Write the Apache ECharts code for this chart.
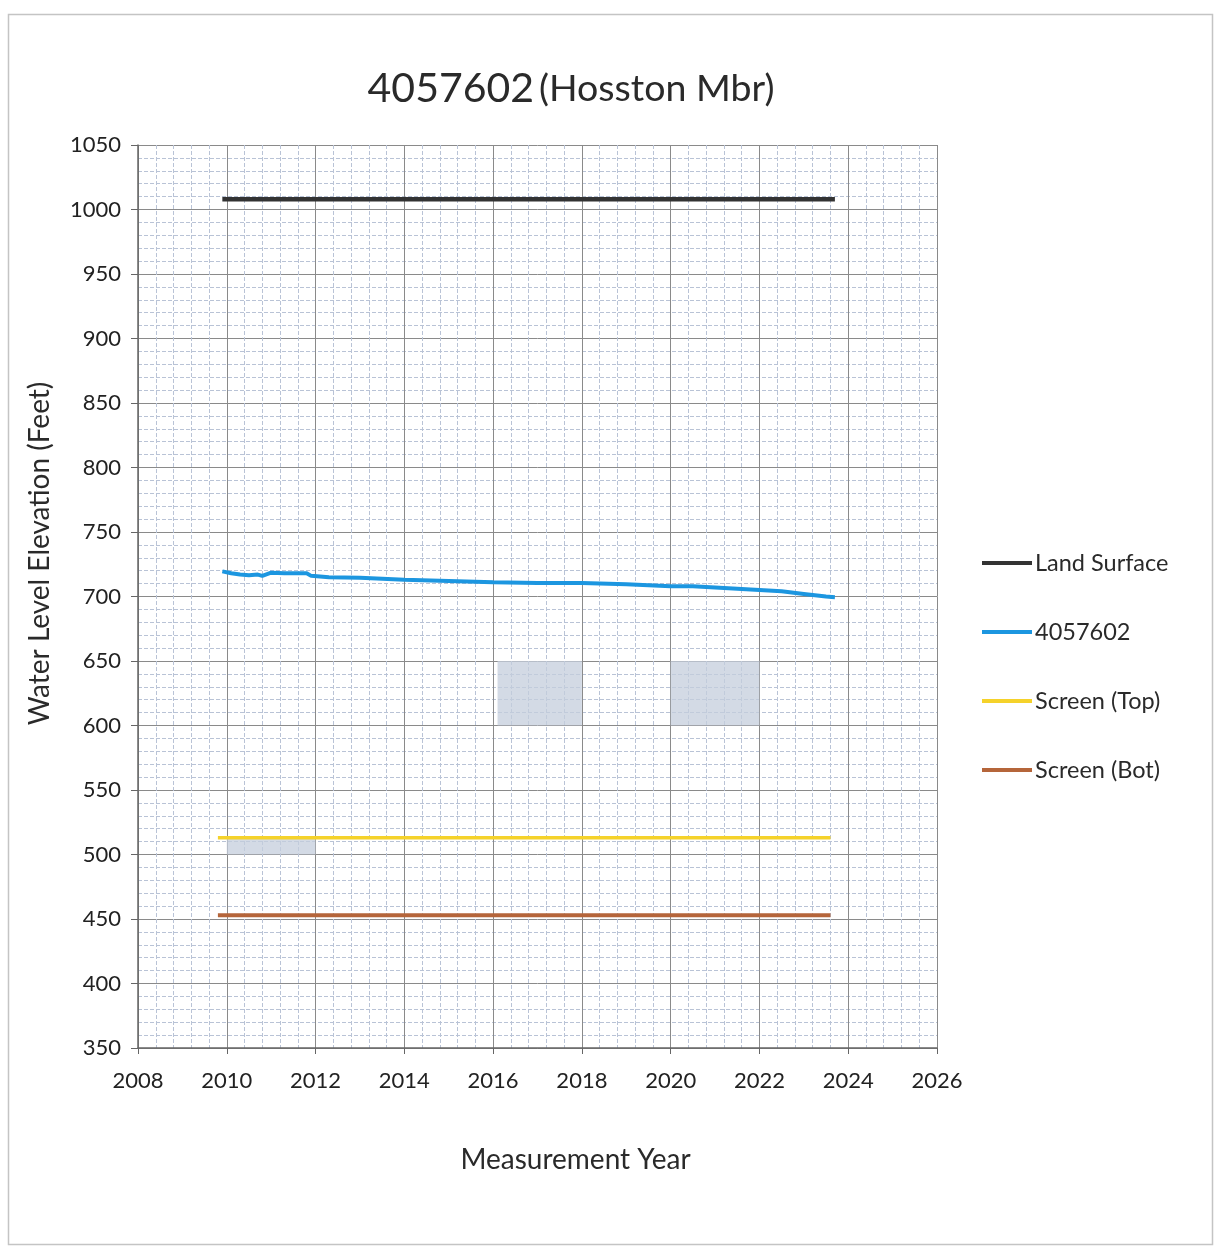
<!DOCTYPE html>
<html>
<head>
<meta charset="utf-8">
<script src="https://cdn.jsdelivr.net/npm/echarts@6/dist/echarts.min.js"></script>
<style>html,body{margin:0;padding:0;background:#fff}#c{width:1214px;height:1247px}</style>
</head>
<body>
<div id="c"></div>
<script>
// ---- data ----
const landYears = [2009.9, 2023.7];
const landValues = [1008, 1008];

const wellYears = [2009.9, 2010.1, 2010.3, 2010.5, 2010.7, 2010.8, 2011.0, 2011.3, 2011.6, 2011.8, 2011.9, 2012.3, 2013.0, 2014.0, 2015.0, 2016.0, 2017.0, 2018.0, 2019.0, 2020.0, 2020.5, 2021.0, 2022.0, 2022.5, 2023.0, 2023.5, 2023.7];
const wellValues = [719.5, 718, 717, 716.5, 717, 716, 718.5, 718, 718, 718, 716, 715, 714.5, 713, 712, 711, 710.5, 710.5, 709.5, 708, 708, 707, 705, 704, 702, 700, 699.5];

const screenTopYears = [2009.8, 2023.6];
const screenTopValues = [513, 513];
const screenBotYears = [2009.8, 2023.6];
const screenBotValues = [453, 453];

const shadeX = [[2016.1, 2018.0], [2020.0, 2022.0], [2010.0, 2012.0]];
const shadeY = [[600, 650], [600, 650], [500, 513]];

const seriesNames = ['Land Surface', '4057602', 'Screen (Top)', 'Screen (Bot)'];
const titleMain = '4057602';
const titleSub = '(Hosston Mbr)';

// ---- chart ----
const FONT = 'Lato, "Open Sans", sans-serif';
const pair = (xs, ys) => xs.map((x, i) => [x, ys[i]]);
const chart = echarts.init(document.getElementById('c'), null, {renderer: 'canvas'});

const areas = shadeX.map((xr, i) => [
  {xAxis: xr[0], yAxis: shadeY[i][0]},
  {xAxis: xr[1], yAxis: shadeY[i][1]}
]);

chart.setOption({
  backgroundColor: '#ffffff',
  animation: false,
  graphic: [{
    type: 'rect', left: 6, top: 12, shape: {width: 1204, height: 1230},
    style: {fill: 'none', stroke: '#c4c4c4', lineWidth: 1.5}, z: -1
  }],
  title: {
    text: '{a|' + titleMain + '} {b|' + titleSub + '}',
    left: 566, top: 63, textAlign: 'center',
    textStyle: {
      fontWeight: 'normal',
      rich: {
        a: {fontFamily: FONT, fontSize: 41, fontWeight: 'normal', color: '#2a2a2a'},
        b: {fontFamily: FONT, fontSize: 37.5, fontWeight: 'normal', color: '#2a2a2a'}
      }
    }
  },
  legend: {
    orient: 'vertical', left: 982, top: 551, padding: 0,
    icon: 'rect', itemWidth: 50, itemHeight: 4, itemGap: 45,
    textStyle: {fontFamily: FONT, fontSize: 23.5, color: '#2a2a2a', padding: [0, 0, 0, -2]},
    data: seriesNames
  },
  grid: {left: 138, right: 277, top: 145, bottom: 199, containLabel: false},
  xAxis: {
    type: 'value', min: 2008, max: 2026, interval: 2,
    name: 'Measurement Year', nameLocation: 'middle', nameGap: 98,
    nameTextStyle: {fontFamily: FONT, fontSize: 28, color: '#2a2a2a', padding: [0, 0, 0, 76]},
    axisLine: {show: true, lineStyle: {color: '#666', width: 1.5}},
    axisTick: {show: true, inside: false, length: 6, lineStyle: {color: '#666'}},
    axisLabel: {fontFamily: FONT, fontSize: 22, color: '#222', margin: 22, formatter: v => String(v)},
    splitLine: {show: true, lineStyle: {color: '#8a8a8a', width: 1}},
    minorTick: {show: true, splitNumber: 5, length: 0},
    minorSplitLine: {show: true, lineStyle: {color: '#b9c3d6', width: 1, type: [4, 2]}}
  },
  yAxis: {
    type: 'value', min: 350, max: 1050, interval: 50,
    name: 'Water Level Elevation (Feet)', nameLocation: 'middle', nameGap: 84,
    nameTextStyle: {fontFamily: FONT, fontSize: 28, color: '#2a2a2a', padding: [0, 0, 0, 86]},
    axisLine: {show: true, lineStyle: {color: '#666', width: 1.5}},
    axisTick: {show: true, length: 7, lineStyle: {color: '#666'}},
    axisLabel: {fontFamily: FONT, fontSize: 22, color: '#222', margin: 17, formatter: v => String(v)},
    splitLine: {show: true, lineStyle: {color: '#8a8a8a', width: 1}},
    minorTick: {show: true, splitNumber: 5, length: 0},
    minorSplitLine: {show: true, lineStyle: {color: '#b9c3d6', width: 1, type: [4, 2]}}
  },
  series: [
    {
      name: seriesNames[0], type: 'line', data: pair(landYears, landValues),
      symbol: 'none', lineStyle: {color: '#333333', width: 4.5}, itemStyle: {color: '#333333'}, z: 5,
      markArea: {silent: true, itemStyle: {color: 'rgba(196,205,220,0.75)'}, data: areas}
    },
    {
      name: seriesNames[1], type: 'line', data: pair(wellYears, wellValues),
      symbol: 'none', lineStyle: {color: '#1c96e0', width: 4}, itemStyle: {color: '#1c96e0'}, z: 5
    },
    {
      name: seriesNames[2], type: 'line', data: pair(screenTopYears, screenTopValues),
      symbol: 'none', lineStyle: {color: '#f5d22a', width: 3.5}, itemStyle: {color: '#f5d22a'}, z: 5
    },
    {
      name: seriesNames[3], type: 'line', data: pair(screenBotYears, screenBotValues),
      symbol: 'none', lineStyle: {color: '#b5653a', width: 4}, itemStyle: {color: '#b5653a'}, z: 5
    }
  ]
});
</script>
</body>
</html>
